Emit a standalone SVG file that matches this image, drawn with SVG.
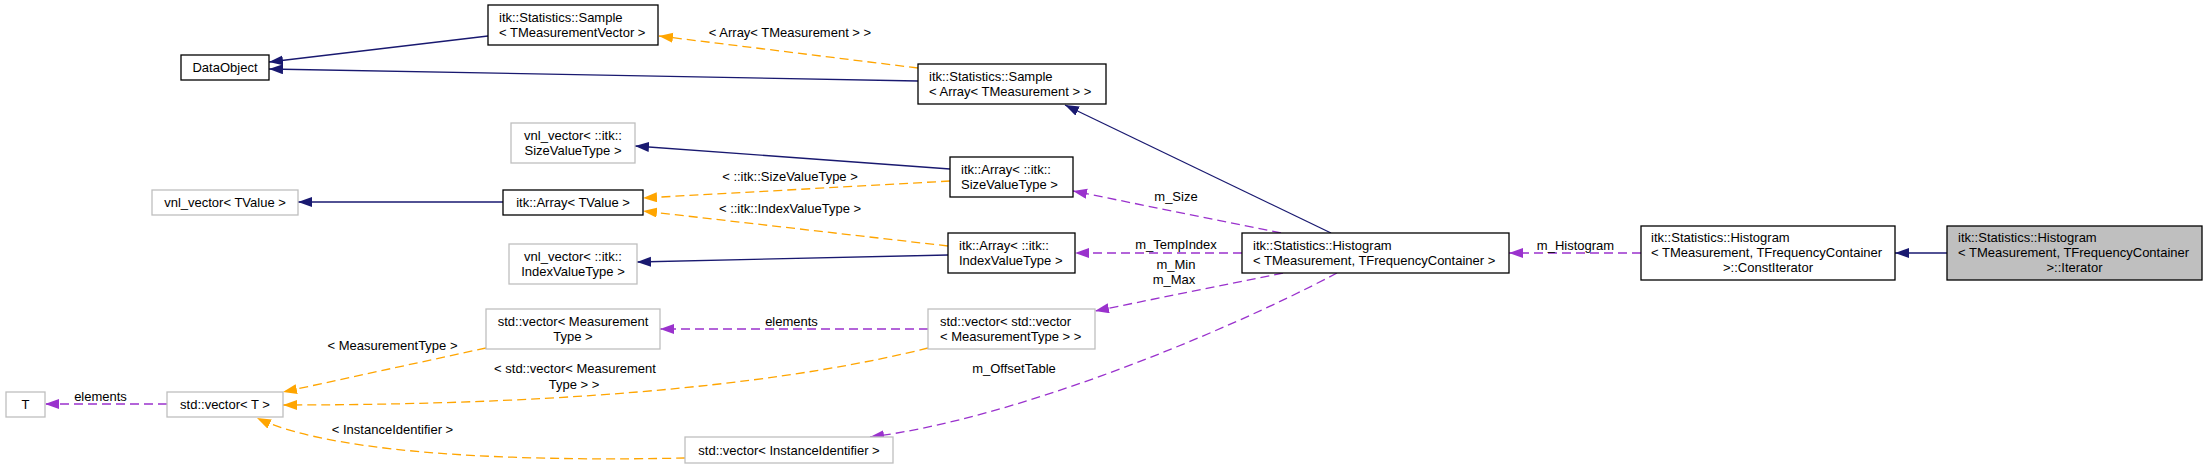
<svg xmlns="http://www.w3.org/2000/svg" width="2208" height="469" viewBox="0 0 2208 469">
<style>
text{font-family:"Liberation Sans",Arial,sans-serif;font-size:13px;fill:#000}
.c{text-anchor:middle}
.n rect{fill:#fff;stroke:#000;stroke-width:1.3}
.g rect{fill:#fff;stroke:#bfbfbf;stroke-width:1.3}
.cur rect{fill:#bfbfbf;stroke:#000;stroke-width:1.3}
.e path{fill:none;stroke-width:1.3}
.inh{stroke:#191970;marker-end:url(#aN)}
.tpl{stroke:#ffa500;stroke-dasharray:9,5;marker-end:url(#aO)}
.use{stroke:#9a32cd;stroke-dasharray:9,5;marker-end:url(#aP)}
</style>
<defs>
<marker id="aN" markerUnits="userSpaceOnUse" markerWidth="15" markerHeight="11" refX="14" refY="5" orient="auto"><path d="M0,0 L14,5 L0,10 z" fill="#191970"/></marker>
<marker id="aO" markerUnits="userSpaceOnUse" markerWidth="15" markerHeight="11" refX="14" refY="5" orient="auto"><path d="M0,0 L14,5 L0,10 z" fill="#ffa500"/></marker>
<marker id="aP" markerUnits="userSpaceOnUse" markerWidth="15" markerHeight="11" refX="14" refY="5" orient="auto"><path d="M0,0 L14,5 L0,10 z" fill="#9a32cd"/></marker>
</defs>
<rect width="2208" height="469" fill="#fff"/>
<g class="e" id="edges">
<path class="inh" d="M488,36 L269,62"/>
<path class="inh" d="M918,81 L269,69"/>
<path class="tpl" d="M918,68 L659,36"/>
<path class="inh" d="M1331,233 L1065,105"/>
<path class="inh" d="M950,169 L635,146"/>
<path class="tpl" d="M950,181 L643,198"/>
<path class="tpl" d="M948,246 L643,211"/>
<path class="inh" d="M948,255 L637,262"/>
<path class="inh" d="M503,202 L298,202"/>
<path class="use" d="M1281,233 L1073,191"/>
<path class="use" d="M1242,253 L1075,253"/>
<path class="use" d="M1283,273 L1095,311"/>
<path class="use" d="M1337,273 C1220,335 1010,420 870,437"/>
<path class="use" d="M928,329 L660,329"/>
<path class="tpl" d="M486,348 L283,392"/>
<path class="tpl" d="M928,348 C800,380 600,405 283,405"/>
<path class="tpl" d="M685,458 C550,461 340,458 257,418"/>
<path class="use" d="M167,404 L45,404"/>
<path class="use" d="M1641,253 L1509,253"/>
<path class="inh" d="M1947,253 L1895,253"/>
<text class="c" x="790" y="36.5">&lt; Array&lt; TMeasurement &gt; &gt;</text>
<text class="c" x="790" y="180.5">&lt; ::itk::SizeValueType &gt;</text>
<text class="c" x="790" y="212.5">&lt; ::itk::IndexValueType &gt;</text>
<text class="c" x="1176" y="200.5">m_Size</text>
<text class="c" x="1176" y="249">m_TempIndex</text>
<text class="c" x="1176" y="268.5">m_Min</text>
<text class="c" x="1174" y="283.5">m_Max</text>
<text class="c" x="791.5" y="325.5">elements</text>
<text class="c" x="1014" y="372.5">m_OffsetTable</text>
<text class="c" x="392.5" y="349.5">&lt; MeasurementType &gt;</text>
<text class="c" x="575" y="372.5">&lt; std::vector&lt; Measurement</text>
<text class="c" x="574" y="388.5">Type &gt; &gt;</text>
<text class="c" x="392.5" y="433.5">&lt; InstanceIdentifier &gt;</text>
<text class="c" x="100.5" y="400.5">elements</text>
<text class="c" x="1575.5" y="249.5">m_Histogram</text>
</g>
<g id="n_dataobject" class="n"><rect x="181" y="55" width="88" height="25"/><text class="c" x="225" y="72">DataObject</text></g>
<g id="n_sample_tmv" class="n"><rect x="488" y="5" width="170" height="40"/><text x="499" y="21.5">itk::Statistics::Sample</text><text x="499" y="36.5">&lt; TMeasurementVector &gt;</text></g>
<g id="n_sample_array" class="n"><rect x="918" y="64" width="188" height="40"/><text x="929" y="80.5">itk::Statistics::Sample</text><text x="929" y="95.5">&lt; Array&lt; TMeasurement &gt; &gt;</text></g>
<g id="n_vnl_size" class="g"><rect x="511" y="123" width="124" height="40"/><text class="c" x="573" y="139.5">vnl_vector&lt; ::itk::</text><text class="c" x="573" y="154.5">SizeValueType &gt;</text></g>
<g id="n_array_size" class="n"><rect x="950" y="157" width="123" height="40"/><text x="961" y="173.5">itk::Array&lt; ::itk::</text><text x="961" y="188.5">SizeValueType &gt;</text></g>
<g id="n_vnl_tvalue" class="g"><rect x="152" y="190" width="146" height="25"/><text class="c" x="225" y="207">vnl_vector&lt; TValue &gt;</text></g>
<g id="n_array_tvalue" class="n"><rect x="503" y="190" width="140" height="25"/><text class="c" x="573" y="207">itk::Array&lt; TValue &gt;</text></g>
<g id="n_vnl_index" class="g"><rect x="509" y="244" width="128" height="40"/><text class="c" x="573" y="260.5">vnl_vector&lt; ::itk::</text><text class="c" x="573" y="275.5">IndexValueType &gt;</text></g>
<g id="n_array_index" class="n"><rect x="948" y="233" width="127" height="40"/><text x="959" y="249.5">itk::Array&lt; ::itk::</text><text x="959" y="264.5">IndexValueType &gt;</text></g>
<g id="n_histogram" class="n"><rect x="1242" y="233" width="267" height="40"/><text x="1253" y="249.5">itk::Statistics::Histogram</text><text x="1253" y="264.5">&lt; TMeasurement, TFrequencyContainer &gt;</text></g>
<g id="n_constiterator" class="n"><rect x="1641" y="226" width="254" height="54"/><text x="1651" y="242">itk::Statistics::Histogram</text><text x="1651" y="257">&lt; TMeasurement, TFrequencyContainer</text><text class="c" x="1768" y="272">&gt;::ConstIterator</text></g>
<g id="n_iterator" class="cur"><rect x="1947" y="226" width="255" height="54"/><text x="1958" y="242">itk::Statistics::Histogram</text><text x="1958" y="257">&lt; TMeasurement, TFrequencyContainer</text><text class="c" x="2074.5" y="272">&gt;::Iterator</text></g>
<g id="n_vec_mt" class="g"><rect x="486" y="309" width="174" height="40"/><text class="c" x="573" y="325.5">std::vector&lt; Measurement</text><text class="c" x="573" y="340.5">Type &gt;</text></g>
<g id="n_vec_vec_mt" class="g"><rect x="928" y="309" width="167" height="40"/><text x="940" y="325.5">std::vector&lt; std::vector</text><text x="940" y="340.5">&lt; MeasurementType &gt; &gt;</text></g>
<g id="n_vec_t" class="g"><rect x="167" y="392" width="116" height="25"/><text class="c" x="225" y="409">std::vector&lt; T &gt;</text></g>
<g id="n_t" class="g"><rect x="6" y="392" width="39" height="25"/><text class="c" x="25.5" y="409">T</text></g>
<g id="n_vec_inst" class="g"><rect x="685" y="437" width="208" height="26"/><text class="c" x="789" y="455">std::vector&lt; InstanceIdentifier &gt;</text></g>
</svg>
